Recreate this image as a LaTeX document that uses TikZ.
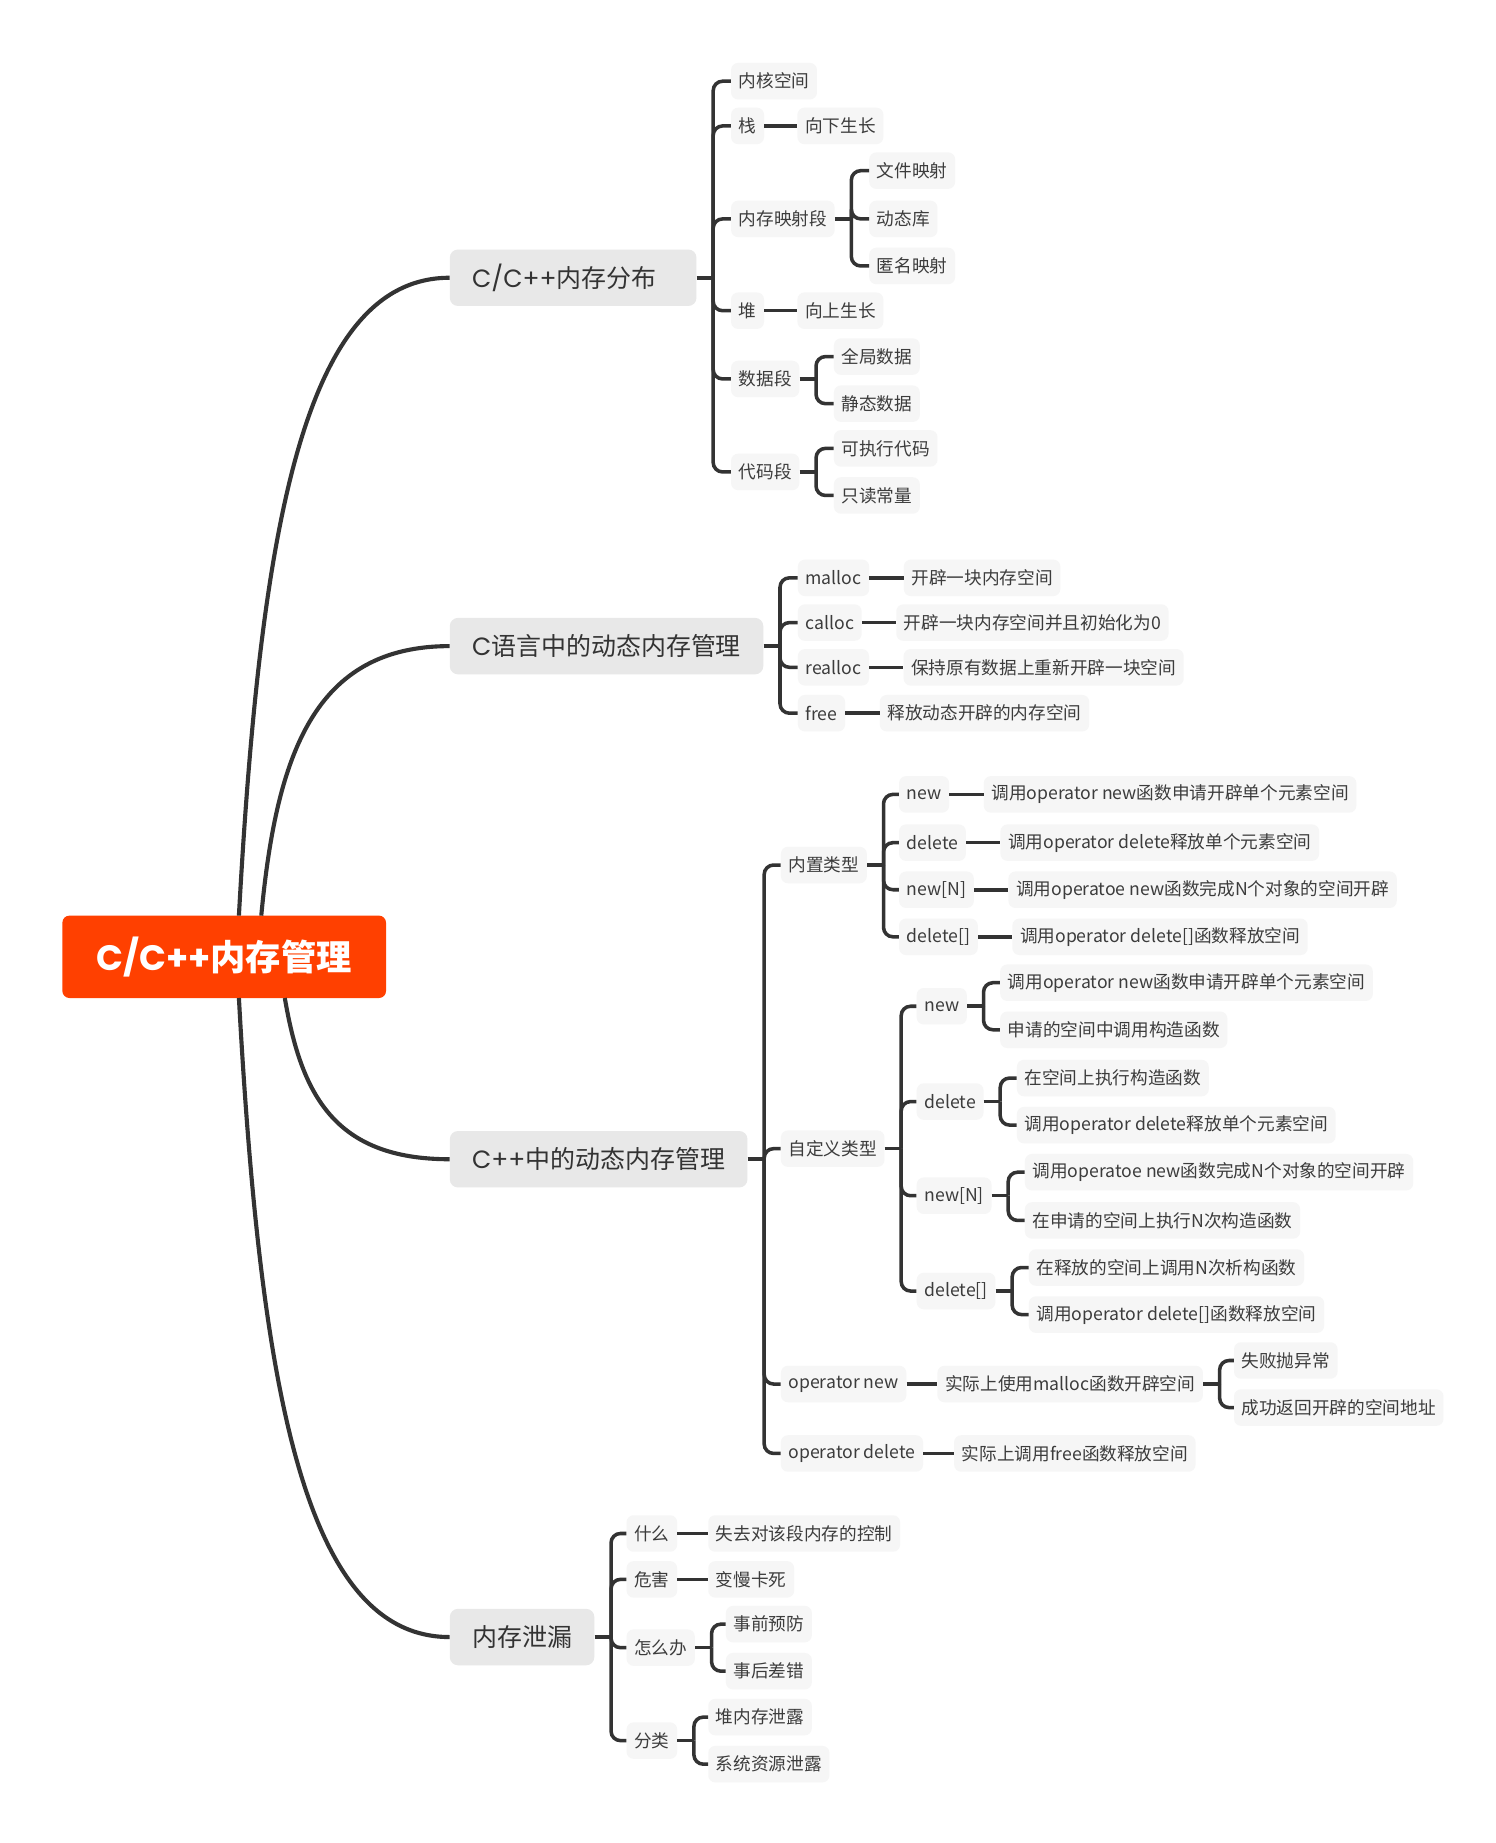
\documentclass[tikz,border=0pt]{standalone}
\usepackage{fontspec}
\setmainfont{Noto Sans CJK SC}
\newfontfamily\lat{Poppins}
\usetikzlibrary{calc}
\definecolor{rootc}{HTML}{FF4000}
\definecolor{lonec}{HTML}{E8E8E8}
\definecolor{ltwoc}{HTML}{F6F6F6}
\definecolor{linec}{HTML}{333333}
\definecolor{txtc}{HTML}{3C3C3C}
\newcommand\mybranch[2]{%
  \draw[conn] (#1.east) -- ++(14,0) coordinate (#1j);
  \foreach \k in {#2}{\draw[conn, rounded corners=8pt] (#1j) |- (\k.west);}%
}
\newcommand\mychain[2]{\draw[conn] (#1.east) -- (#2.west);}
\begin{document}
\begin{tikzpicture}[x=1pt,y=-1pt,
  rootnode/.style={fill=rootc, rounded corners=6pt, text=white, font=\fontsize{30}{36}\selectfont\bfseries, minimum width=275pt, minimum height=70pt, inner sep=0pt},
  lonenode/.style={fill=lonec, rounded corners=7pt, text=linec, font=\fontsize{21.2}{25}\selectfont, inner xsep=19pt, inner ysep=0pt, minimum height=48pt, anchor=west},
  ltwonode/.style={fill=ltwoc, rounded corners=6pt, text=txtc, font=\fontsize{15}{18}\selectfont, inner xsep=6.5pt, inner ysep=0pt, minimum height=31pt, anchor=west},
  conn/.style={draw=linec, line width=3pt},
  curvec/.style={draw=linec, line width=3.5pt},
]
\useasboundingbox[fill=white] (0,0) rectangle (1271,1566);

% root
\node[rootnode] (root) at (190.5,813) {{\lat C/C++}内存管理};

% level 1
\node[lonenode] (m1) at (382,236) {{\lat C/C++}内存分布\rule{15pt}{0pt}};
\node[lonenode] (m2) at (382,549) {{\lat C}语言中的动态内存管理};
\node[lonenode] (m3) at (382,985) {{\lat C++}中的动态内存管理};
\node[lonenode] (m4) at (382,1391) {内存泄漏};

% curves from root
\coordinate (rA) at (203,778);
\coordinate (rB) at (222,778);
\coordinate (rC) at (242,848);
\coordinate (rD) at (203,848);
\draw[curvec] (rA) .. controls (221,453) and (257,236) .. (m1.west);
\draw[curvec] (rB) .. controls (235,641) and (267,549) .. (m2.west);
\draw[curvec] (rC) .. controls (256,930) and (284,985) .. (m3.west);
\draw[curvec] (rD) .. controls (221,1174) and (257,1391) .. (m4.west);

% ===== m1 =====
\node[ltwonode, xshift=29pt] (a1) at (m1.east |- 0,69) {内核空间};
\node[ltwonode, xshift=29pt] (a2) at (m1.east |- 0,107) {栈};
\node[ltwonode, xshift=29pt] (a3) at (m1.east |- 0,186) {内存映射段};
\node[ltwonode, xshift=29pt] (a4) at (m1.east |- 0,264) {堆};
\node[ltwonode, xshift=29pt] (a5) at (m1.east |- 0,322) {数据段};
\node[ltwonode, xshift=29pt] (a6) at (m1.east |- 0,401) {代码段};
\mybranch{m1}{a1,a2,a3,a4,a5,a6}

\node[ltwonode, xshift=28pt] (a2x) at (a2.east) {向下生长};
\mychain{a2}{a2x}
\node[ltwonode, xshift=28pt] (a4x) at (a4.east) {向上生长};
\mychain{a4}{a4x}

\node[ltwonode, xshift=29pt] (a31) at (a3.east |- 0,145) {文件映射};
\node[ltwonode, xshift=29pt] (a32) at (a3.east |- 0,186) {动态库};
\node[ltwonode, xshift=29pt] (a33) at (a3.east |- 0,226) {匿名映射};
\mybranch{a3}{a31,a32,a33}

\node[ltwonode, xshift=29pt] (a51) at (a5.east |- 0,303) {全局数据};
\node[ltwonode, xshift=29pt] (a52) at (a5.east |- 0,343) {静态数据};
\mybranch{a5}{a51,a52}

\node[ltwonode, xshift=29pt] (a61) at (a6.east |- 0,381) {可执行代码};
\node[ltwonode, xshift=29pt] (a62) at (a6.east |- 0,421) {只读常量};
\mybranch{a6}{a61,a62}

% ===== m2 =====
\node[ltwonode, xshift=29pt] (b1) at (m2.east |- 0,491) {malloc};
\node[ltwonode, xshift=29pt] (b2) at (m2.east |- 0,529) {calloc};
\node[ltwonode, xshift=29pt] (b3) at (m2.east |- 0,567) {realloc};
\node[ltwonode, xshift=29pt] (b4) at (m2.east |- 0,606) {free};
\mybranch{m2}{b1,b2,b3,b4}
\node[ltwonode, xshift=29pt] (b1x) at (b1.east) {开辟一块内存空间};
\node[ltwonode, xshift=29pt] (b2x) at (b2.east) {开辟一块内存空间并且初始化为0};
\node[ltwonode, xshift=29pt] (b3x) at (b3.east) {保持原有数据上重新开辟一块空间};
\node[ltwonode, xshift=29pt] (b4x) at (b4.east) {释放动态开辟的内存空间};
\mychain{b1}{b1x}
\mychain{b2}{b2x}
\mychain{b3}{b3x}
\mychain{b4}{b4x}

% ===== m3 =====
\node[ltwonode, xshift=28pt] (c1) at (m3.east |- 0,735) {内置类型};
\node[ltwonode, xshift=28pt] (c2) at (m3.east |- 0,976) {自定义类型};
\node[ltwonode, xshift=28pt] (c3) at (m3.east |- 0,1176) {operator new};
\node[ltwonode, xshift=28pt] (c4) at (m3.east |- 0,1235) {operator delete};
\mybranch{m3}{c1,c2,c3,c4}

\node[ltwonode, xshift=27pt] (c11) at (c1.east |- 0,675) {new};
\node[ltwonode, xshift=27pt] (c12) at (c1.east |- 0,716) {delete};
\node[ltwonode, xshift=27pt] (c13) at (c1.east |- 0,756) {new[N]};
\node[ltwonode, xshift=27pt] (c14) at (c1.east |- 0,796) {delete[]};
\mybranch{c1}{c11,c12,c13,c14}
\node[ltwonode, xshift=29pt] (c11x) at (c11.east) {调用operator new函数申请开辟单个元素空间};
\node[ltwonode, xshift=29pt] (c12x) at (c12.east) {调用operator delete释放单个元素空间};
\node[ltwonode, xshift=29pt] (c13x) at (c13.east) {调用operatoe new函数完成N个对象的空间开辟};
\node[ltwonode, xshift=29pt] (c14x) at (c14.east) {调用operator delete[]函数释放空间};
\mychain{c11}{c11x}
\mychain{c12}{c12x}
\mychain{c13}{c13x}
\mychain{c14}{c14x}

\node[ltwonode, xshift=27pt] (c21) at (c2.east |- 0,855) {new};
\node[ltwonode, xshift=27pt] (c22) at (c2.east |- 0,936) {delete};
\node[ltwonode, xshift=27pt] (c23) at (c2.east |- 0,1016) {new[N]};
\node[ltwonode, xshift=27pt] (c24) at (c2.east |- 0,1097) {delete[]};
\mybranch{c2}{c21,c22,c23,c24}

\node[ltwonode, xshift=28pt] (c211) at (c21.east |- 0,835) {调用operator new函数申请开辟单个元素空间};
\node[ltwonode, xshift=28pt] (c212) at (c21.east |- 0,875) {申请的空间中调用构造函数};
\mybranch{c21}{c211,c212}
\node[ltwonode, xshift=28pt] (c221) at (c22.east |- 0,916) {在空间上执行构造函数};
\node[ltwonode, xshift=28pt] (c222) at (c22.east |- 0,956) {调用operator delete释放单个元素空间};
\mybranch{c22}{c221,c222}
\node[ltwonode, xshift=28pt] (c231) at (c23.east |- 0,996) {调用operatoe new函数完成N个对象的空间开辟};
\node[ltwonode, xshift=28pt] (c232) at (c23.east |- 0,1037) {在申请的空间上执行N次构造函数};
\mybranch{c23}{c231,c232}
\node[ltwonode, xshift=28pt] (c241) at (c24.east |- 0,1077) {在释放的空间上调用N次析构函数};
\node[ltwonode, xshift=28pt] (c242) at (c24.east |- 0,1117) {调用operator delete[]函数释放空间};
\mybranch{c24}{c241,c242}

\node[ltwonode, xshift=26pt] (c3x) at (c3.east) {实际上使用malloc函数开辟空间};
\mychain{c3}{c3x}
\node[ltwonode, xshift=26pt] (c3x1) at (c3x.east |- 0,1156) {失败抛异常};
\node[ltwonode, xshift=26pt] (c3x2) at (c3x.east |- 0,1196) {成功返回开辟的空间地址};
\mybranch{c3x}{c3x1,c3x2}
\node[ltwonode, xshift=26pt] (c4x) at (c4.east) {实际上调用free函数释放空间};
\mychain{c4}{c4x}

% ===== m4 =====
\node[ltwonode, xshift=27pt] (d1) at (m4.east |- 0,1303) {什么};
\node[ltwonode, xshift=27pt] (d2) at (m4.east |- 0,1342) {危害};
\node[ltwonode, xshift=27pt] (d3) at (m4.east |- 0,1400) {怎么办};
\node[ltwonode, xshift=27pt] (d4) at (m4.east |- 0,1479) {分类};
\mybranch{m4}{d1,d2,d3,d4}
\node[ltwonode, xshift=26pt] (d1x) at (d1.east) {失去对该段内存的控制};
\node[ltwonode, xshift=26pt] (d2x) at (d2.east) {变慢卡死};
\mychain{d1}{d1x}
\mychain{d2}{d2x}
\node[ltwonode, xshift=26pt] (d31) at (d3.east |- 0,1380) {事前预防};
\node[ltwonode, xshift=26pt] (d32) at (d3.east |- 0,1420) {事后差错};
\mybranch{d3}{d31,d32}
\node[ltwonode, xshift=26pt] (d41) at (d4.east |- 0,1459) {堆内存泄露};
\node[ltwonode, xshift=26pt] (d42) at (d4.east |- 0,1499) {系统资源泄露};
\mybranch{d4}{d41,d42}
\end{tikzpicture}
\end{document}
